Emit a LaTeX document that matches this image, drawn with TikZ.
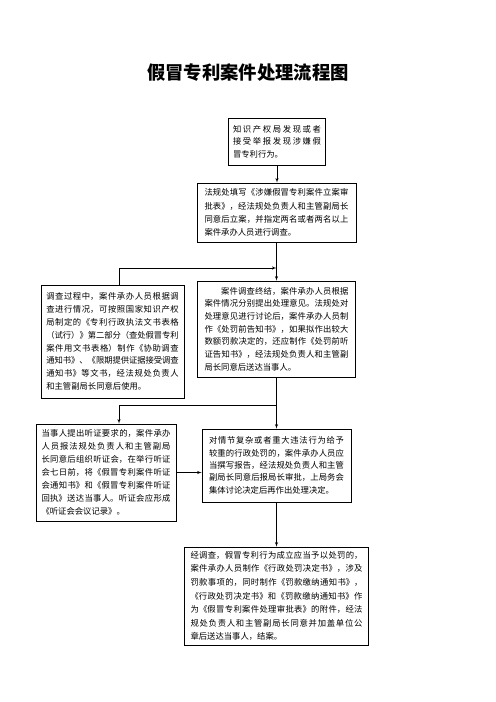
\documentclass[tikz,border=0pt]{standalone}
\usepackage{fontspec}
\setmainfont{Noto Sans CJK SC}
\usetikzlibrary{arrows}
\XeTeXlinebreaklocale "zh"
\XeTeXlinebreakskip=0pt plus 3pt minus 0.6pt
\tikzset{
  procbox/.style={draw, line width=0.9pt, align=justify, inner sep=0pt,
    font=\fontsize{10pt}{#1}\selectfont, execute at begin node={\tolerance=9999 }},
  procbox/.default=15.4pt
}
\begin{document}
\begin{tikzpicture}[>=latex', x=1.2pt, y=-1.2pt]
\useasboundingbox (0,0) rectangle (496,702);
% title
\node[font=\fontsize{22pt}{26pt}\selectfont\bfseries] (title) at (248,73) {假冒专利案件处理流程图};
% boxes
\node[procbox=14.8pt, text width=105.6pt, minimum width=116.4pt, minimum height=56.4pt] (report) at (277,141.5) {知识产权局发现或者\linebreak
接受举报发现涉嫌假\linebreak
冒专利行为。};
\node[procbox=16pt, text width=172.8pt, minimum width=190.8pt, minimum height=70.8pt] (register) at (276.5,212.5) {法规处填写《涉嫌假冒专利案件立案审\linebreak
批表》，经法规处负责人和主管副局长\linebreak
同意后立案，并指定两名或者两名以上\linebreak
案件承办人员进行调查。};
\node[procbox=15.4pt, text width=159pt, minimum width=171.6pt, minimum height=135.6pt] (assist) at (112.5,341.5) {调查过程中，案件承办人员根据调\linebreak
查进行情况，可按照国家知识产权\linebreak
局制定的《专利行政执法文书表格\linebreak
（试行）》第二部分（查处假冒专利\linebreak
案件用文书表格）制作《协助调查\linebreak
通知书》、《限期提供证据接受调查\linebreak
通知书》等文书，经法规处负责人\linebreak
和主管副局长同意后使用。};
\node[procbox=15.2pt, text width=172.8pt, minimum width=189.6pt, minimum height=115.2pt] (inform) at (276.5,329) {\hspace*{2em}案件调查终结，案件承办人员根据\linebreak
案件情况分别提出处理意见。法规处对\linebreak
处理意见进行讨论后，案件承办人员制\linebreak
作《处罚前告知书》，如果拟作出较大\linebreak
数额罚款决定的，还应制作《处罚前听\linebreak
证告知书》，经法规处负责人和主管副\linebreak
局长同意后送达当事人。};
\node[procbox=15.6pt, text width=154.8pt, minimum width=168pt, minimum height=116.4pt] (hearing) at (106,472.5) {当事人提出听证要求的，案件承办\linebreak
人员报法规处负责人和主管副局\linebreak
长同意后组织听证会，在举行听证\linebreak
会七日前，将《假冒专利案件听证\linebreak
会通知书》和《假冒专利案件听证\linebreak
回执》送达当事人。听证会应形成\linebreak
《听证会会议记录》。};
\node[procbox=14.8pt, text width=162pt, minimum width=178.8pt, minimum height=87.6pt] (discuss) at (276.5,465.5) {对情节复杂或者重大违法行为给予\linebreak
较重的行政处罚的，案件承办人员应\linebreak
当撰写报告，经法规处负责人和主管\linebreak
副局长同意后报局长审批，上局务会\linebreak
集体讨论决定后再作出处理决定。};
\node[procbox=16.3pt, text width=206.4pt, minimum width=220.8pt, minimum height=117.6pt] (decide) at (276.5,596) {经调查，假冒专利行为成立应当予以处罚的，\linebreak
案件承办人员制作《行政处罚决定书》，涉及\linebreak
罚款事项的，同时制作《罚款缴纳通知书》，\linebreak
《行政处罚决定书》和《罚款缴纳通知书》作\linebreak
为《假冒专利案件处理审批表》的附件，经法\linebreak
规处负责人和主管副局长同意并加盖单位公\linebreak
章后送达当事人，结案。};
% junctions
\coordinate (merge) at (276.5,268);
\coordinate (split) at (276.5,405);
\coordinate (leftline) at (119,0);
% arrows
\draw[->, line width=0.8pt] (report.south) -- (report.south |- register.north);
\draw[->, line width=0.8pt] (register.south) -- (inform.north);
\draw[->, line width=0.8pt] (leftline |- assist.north) |- (merge);
\draw[line width=0.8pt] (inform.south) -- (split);
\draw[->, line width=0.8pt] (split) -- (discuss.north);
\draw[->, line width=0.8pt] (split) -| (leftline |- hearing.north);
\draw[->, line width=0.8pt] (hearing.east) -- (hearing.east -| discuss.west);
\draw[->, line width=0.8pt] (discuss.south) -- (decide.north);
\end{tikzpicture}
\end{document}
